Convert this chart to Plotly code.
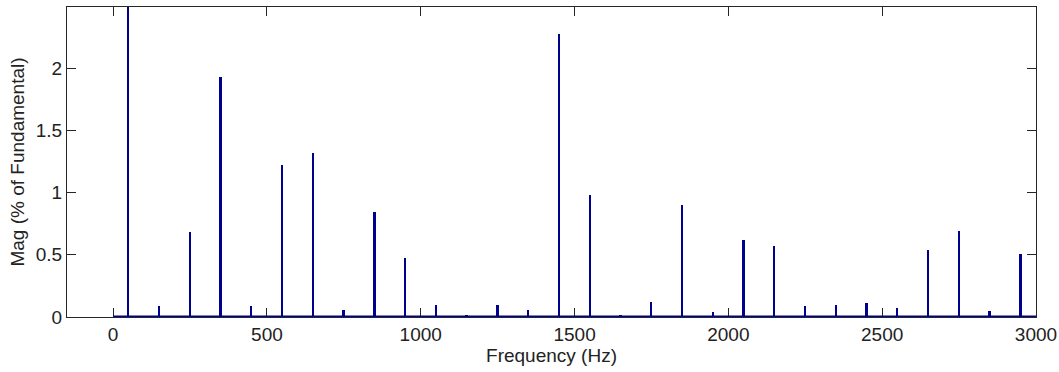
import plotly.graph_objects as go

# harmonic spectrum, frequency in Hz, magnitude in % of fundamental
freqs = [50, 150, 250, 350, 450, 550, 650, 750, 850, 950,
         1050, 1150, 1250, 1350, 1450, 1550, 1650, 1750, 1850, 1950,
         2050, 2150, 2250, 2350, 2450, 2550, 2650, 2750, 2850, 2950]
mags = [100.0, 0.09, 0.68, 1.93, 0.09, 1.22, 1.32, 0.055, 0.84, 0.47,
        0.095, 0.02, 0.10, 0.055, 2.27, 0.98, 0.02, 0.12, 0.90, 0.04,
        0.62, 0.57, 0.085, 0.095, 0.115, 0.075, 0.54, 0.69, 0.045, 0.51]

# FFT bins between harmonics are ~0, they form the line along zero
band_freqs = [0, 3000]
band_mags = [0, 0]

x_ticks = [0, 500, 1000, 1500, 2000, 2500, 3000]
y_ticks = [0, 0.5, 1, 1.5, 2]

BLUE = "#00008f"
FONT = "Liberation Sans, Arial, sans-serif"

fig = go.Figure()
fig.add_trace(
    go.Scatter(
        x=band_freqs,
        y=band_mags,
        mode="lines",
        line=dict(color=BLUE, width=3),
        showlegend=False,
        hoverinfo="skip",
    )
)
fig.add_trace(
    go.Bar(
        x=freqs,
        y=mags,
        width=6,
        marker=dict(color=BLUE, line=dict(width=0)),
        showlegend=False,
    )
)

axis_common = dict(
    showline=True,
    linecolor="#262626",
    linewidth=1,
    mirror="ticks",
    ticks="inside",
    ticklen=9,
    tickwidth=1,
    tickcolor="#262626",
    showgrid=False,
    zeroline=False,
    automargin=False,
    layer="below traces",
    tickfont=dict(family=FONT, size=19, color="#222222"),
)

fig.update_layout(
    width=1059,
    height=372,
    margin=dict(l=67, r=23, t=7, b=55),
    paper_bgcolor="white",
    plot_bgcolor="white",
    bargap=0,
    font=dict(family=FONT, size=19, color="#222222"),
    xaxis=dict(
        range=[-150, 3000],
        tickvals=x_ticks,
        title=dict(text="Frequency (Hz)", font=dict(family=FONT, size=19), standoff=2),
        **axis_common,
    ),
    yaxis=dict(
        range=[0, 2.49],
        tickvals=y_ticks,
        title=dict(text="Mag (% of Fundamental)", font=dict(family=FONT, size=19), standoff=6),
        **axis_common,
    ),
)

# drop the default 8px page margin so the figure fills the window exactly
fig.write_html(
    "out.html",
    config={"displayModeBar": False},
    post_script="document.body.style.margin='0';document.body.style.overflow='hidden';",
)
